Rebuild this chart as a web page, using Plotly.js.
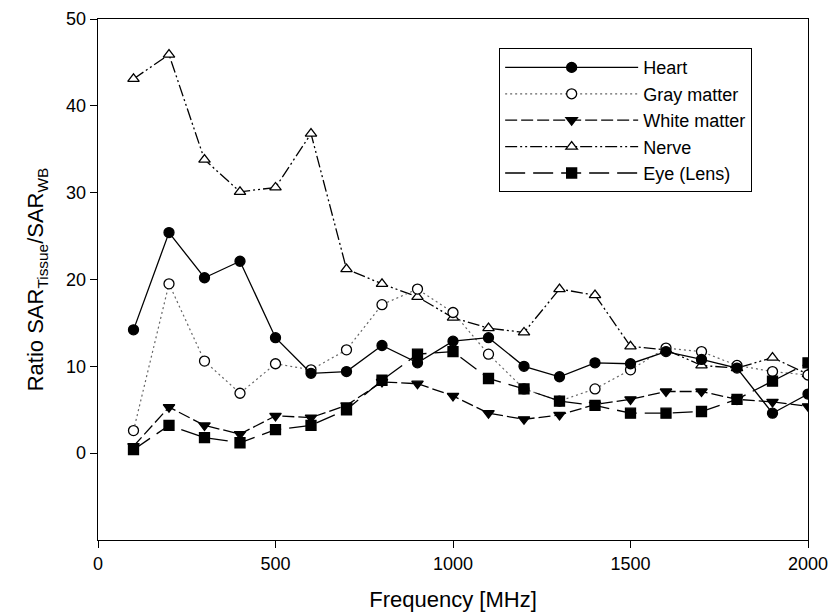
<!DOCTYPE html>
<html><head><meta charset="utf-8">
<script src="https://cdn.plot.ly/plotly-3.0.1.min.js"></script>
<style>body{margin:0;background:#fff}#c{width:832px;height:616px}</style>
</head><body><div id="c"></div>
<script>
const freq = [100,200,300,400,500,600,700,800,900,1000,1100,1200,1300,1400,1500,1600,1700,1800,1900,2000];
const heart = [14.2,25.4,20.2,22.1,13.3,9.2,9.4,12.4,10.4,12.9,13.3,10.0,8.8,10.4,10.3,11.7,10.8,9.8,4.6,6.8];
const grayMatter = [2.6,19.5,10.6,6.9,10.3,9.6,11.9,17.1,18.9,16.2,11.4,7.4,6.0,7.4,9.6,12.1,11.7,10.1,9.4,9.0];
const whiteMatter = [0.8,5.3,3.2,2.2,4.3,4.1,5.5,8.2,8.0,6.6,4.6,3.9,4.4,5.6,6.2,7.1,7.1,6.2,5.9,5.4];
const nerve = [43.1,45.9,33.8,30.1,30.6,36.8,21.2,19.5,18.0,15.6,14.4,13.9,18.9,18.2,12.3,11.9,10.1,9.8,11.0,9.1];
const eyeLens = [0.4,3.2,1.8,1.2,2.7,3.2,5.0,8.4,11.4,11.7,8.6,7.4,6.0,5.5,4.6,4.6,4.8,6.2,8.3,10.4];
const names = ['Heart','Gray matter','White matter','Nerve','Eye (Lens)'];

const mk = (y, name, sym, fill, dash, lw, lc, rank) => ({
  x: freq, y: y, name: name, type: 'scatter', mode: 'lines+markers', legendrank: rank,
  line: {color: lc, width: lw, dash: dash},
  marker: {symbol: sym, size: 10, color: fill, line: {color: '#000', width: 1.3}}
});
const data = [
  mk(nerve, names[3], 'triangle-up', '#fff', '12px,3px,2px,3px,2px,3px', 1.3, '#000', 4),
  mk(grayMatter, names[1], 'circle', '#fff', '2px,3px', 1.2, '#666', 2),
  mk(heart, names[0], 'circle', '#000', 'solid', 1.3, '#000', 1),
  mk(whiteMatter, names[2], 'triangle-down', '#000', '12px,4px', 1.3, '#000', 3),
  mk(eyeLens, names[4], 'square', '#000', '20px,8px', 1.3, '#000', 5)
];

const font = 'Liberation Sans, Arial, sans-serif';
const layout = {
  width: 832, height: 616,
  margin: {l: 98, r: 24, t: 19, b: 76},
  paper_bgcolor: '#fff', plot_bgcolor: '#fff',
  font: {family: font, size: 18, color: '#000'},
  showlegend: true,
  legend: {x: 0.565, y: 0.944, xanchor: 'left', yanchor: 'top',
           bordercolor: '#000', borderwidth: 1, bgcolor: '#fff',
           font: {family: font, size: 18}, itemwidth: 133, tracegroupgap: 0},
  xaxis: {range: [0, 2000], tickvals: [0,500,1000,1500,2000], ticks: 'outside', ticklen: 7,
          tickcolor: '#000', showline: true, linecolor: '#000', linewidth: 1.3, mirror: true,
          showgrid: false, zeroline: false, tickfont: {size: 18},
          title: {text: 'Frequency [MHz]', font: {size: 22}, standoff: 18}},
  yaxis: {range: [-10, 50], tickvals: [0,10,20,30,40,50], ticks: 'outside', ticklen: 7,
          tickcolor: '#000', showline: true, linecolor: '#000', linewidth: 1.3, mirror: true,
          showgrid: false, zeroline: false, tickfont: {size: 18},
          title: {text: 'Ratio SAR<sub>Tissue</sub>/SAR<sub>WB</sub>', font: {size: 22}, standoff: 16}}
};
Plotly.newPlot('c', data, layout, {displayModeBar: false, staticPlot: true});
</script></body></html>
